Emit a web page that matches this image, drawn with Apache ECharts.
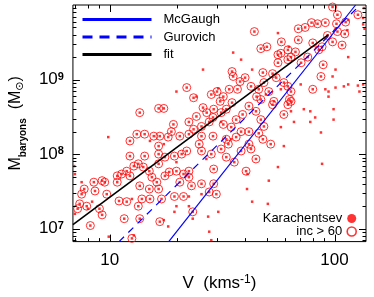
<!DOCTYPE html>
<html lang="en">
<head>
    <meta charset="UTF-8"/>
    <title>Baryonic Tully-Fisher</title>
    <script src="https://cdn.jsdelivr.net/npm/echarts@6/dist/echarts.min.js"></script>
</head>
<body style="margin:0;">
<div id="main" style="width:374px;height:297px;"></div>

<script type="text/javascript">
    // galaxies with inc > 60 (drawn as rings), [V (km/s), M_baryons (Msun)]
    var inclined = [
        [98,9.4e9],[103,7.4e9],[127,7.4e9],[112,5.9e9],[102,5.6e9],[91,5.8e9],[84,5.6e9],[79,5.8e9],[74,5.0e9],[69,4.8e9],
        [103,4.4e9],[111,4.1e9],[93,3.9e9],[98,3.2e9],[108,2.9e9],[69,3.4e9],[58,3.2e9],[50,2.75e9],[47,2.6e9],[44,4.4e9],
        [85,2.5e9],[80,3.1e9],[88,2.75e9],[67,2.35e9],[62,2.5e9],[56,2.15e9],[64,2.0e9],[56,1.68e9],[89,1.58e9],[62,1.85e9],
        [71,1.68e9],[35,1.28e9],[35.4,1.1e9],[38,9.4e8],[40,1.06e9],[48,1.24e9],[53,1.2e9],[55,1.06e9],[59.5,9.1e8],[48.5,9.1e8],
        [62,8.1e8],[64,6.9e8],[63,5.4e8],[80,7.4e8],[87,1.1e9],[42.5,8.1e8],[46,7.4e8],[45,5.9e8],[34,7.4e8],[32,5.9e8],
        [35,4.9e8],[31,5.1e8],[30,6.9e8],[22,7.8e8],[23.6,5.7e8],[41.6,4.4e8],[44.7,3.75e8],[47,2.9e8],[53,4.6e8],[39,3.4e8],
        [36.5,2.9e8],[33,4.0e8],[29,4.0e8],[28.8,3.1e8],[24.3,3.2e8],[26,4.2e8],[13.6,3.6e8],[16.5,4.1e8],[17.4,4.1e8],[19.2,2.5e8],
        [22.5,2.7e8],[32,2.5e8],[34.7,2.3e8],[48.5,2.35e8],[25.6,2.35e8],[27.7,2.7e8],[23.6,2.15e8],[59.5,3.4e8],[64,5.1e8],[53.7,5.1e8],
        [31.3,3.6e8],[13.2,1.85e8],[14.3,1.85e8],[12.3,1.5e8],[15.7,1.74e8],[16.7,1.74e8],[18.2,1.69e8],[20.5,1.74e8],[22.5,1.85e8],[18.8,2.0e8],
        [16.5,1.28e8],[12.3,9.4e7],[14.3,9.4e7],[16.5,1.0e8],[17.6,9.1e7],[19.4,9.4e7],[20.9,1.0e8],[22,1.1e8],[41.6,2.0e8],[36.5,1.69e8],
        [28.8,1.74e8],[33.7,1.36e8],[25,1.36e8],[44.7,8.6e7],[35.8,7.8e7],[25.6,1.1e8],[28.3,1.0e8],[31.3,1.17e8],[38.4,1.1e8],[42.5,1.17e8],
        [33,9.1e7],[48,1.58e8],[13.4,7.4e7],[14.1,6.7e7],[12.8,6.9e7],[11.9,5.9e7],[11.3,5.4e7],[12.3,5.1e7],[10.8,5.1e7],[10.8,4.2e7],
        [16.5,7.4e7],[15,5.9e7],[15.4,4.9e7],[17.6,5.1e7],[18.4,5.75e7],[19.8,5.9e7],[20.5,4.2e7],[22.5,5.9e7],[16.2,4.2e7],[16.5,3.4e7],
        [15,3.4e7],[8.5,4.2e7],[9.25,4.4e7],[9.5,4.2e7],[7.7,3.4e7],[8.6,3.2e7],[9.7,2.9e7],[7.5,2.9e7],[13.6,3.75e7],[19.4,2.7e7],
        [21.3,2.7e7],[17,2.5e7],[22.5,4.9e7],[23.1,3.75e7],[25.6,4.0e7],[21.3,5.4e7],[29,6.3e7],[29,4.0e7],[27.7,3.1e7],[29.8,2.9e7],
        [40.4,5.9e7],[7.35,2.15e7],[7.2,1.85e7],[7.9,2.0e7],[9.0,1.85e7],[9.25,1.53e7],[11,2.35e7],[13.9,2.5e7],[15.1,2.5e7],[13.4,2.0e7],
        [8.2,1.1e7],[11.6,1.36e7],[13.6,1.36e7],[16.7,1.24e7],[23.4,1.68e7],[12.55,7.4e6],[11.9,2.3e7],
        [57.7,2.25e9],[76,2.0e9],[62,4.6e8],[51,6.9e8],[47,5.4e8],[37,7.4e8],[28.3,6.3e8],[27,3.6e8],[38.4,2.0e8],[46,1.9e8],
        [33,1.58e8],[25.6,1.74e8],[52,1.36e8],[41.6,1.36e8]
    ];
    // the rest of the Karachentsev sample (dot only)
    var others = [
        [135,9.1e9],[134,6.7e9],[136,4.8e9],[115,6.3e9],[114,4.6e9],[115,2.0e9],[101,1.36e9],[101,7.8e8],[110,8.1e8],[115,8.6e8],
        [127,8.3e8],[129,6.9e8],[134,8.6e8],[99,2.9e8],[73,4.0e8],[78,3.75e8],[66,2.7e8],[78,2.7e8],[59.5,1.28e8],[88,7.4e7],
        [41,5.4e7],[51,4.4e7],[56,6.7e7],[43,2.3e7],[50.5,2.15e7],[40.8,3.4e7],[27.7,9.1e6],[28.3,7.0e6],[12.8,8.1e6],[9.9,7.8e6],
        [23.4,1.36e7],[27.4,1.45e7],[30.4,1.68e7],[22.5,2.7e7],[25.6,2.9e7],[56,4.2e9],[35.4,2.3e9],[26,1.36e9],[24.3,5.9e8],[62.6,2.75e9],
        [91,7.4e8],[94,6.9e8],[64,3.75e8],[82,3.1e8],[57.7,2.3e8],[9.85,1.69e8],[15.1,1.5e8],[17.4,1.36e8],[7.5,4.2e7],[8.0,1.85e7],
        [8.35,2.3e7],[12.55,2.5e7],[19.8,7.8e7],[7.0,1.58e7],[19.8,2.0e7],[22.5,2.0e7],[6.95,6.9e7],[19.8,6.9e8],[30.4,7.6e8],[99,4.0e8],
        [94,5.9e8],[43,1.36e9],[31.3,2.7e8],[17.4,1.3e7],[18.2,1.07e7],[7.0,5.4e7],[19.4,1.68e7],[87,1.95e8],[98,1.1e9],[134,5.5e9],
        [38.4,1.85e9],[49.5,6.3e8],[34.7,1.58e8],[57.7,7.4e8],[70.7,8.6e8],[26.9,8.6e7]
    ];
    // relations (end points)
    var mcgaugh = [[18.3, 6.7e6], [124, 1e10]];
    var gurovich = [[11.0, 6.7e6], [130, 1e10]];
    var fit = [[6.86, 1.13e7], [94, 4.0e9]];

    // tick marks, [value, length]
    var xTicks = [[10,7],[100,7],[7,3.5],[8,3.5],[9,3.5],[20,3.5],[30,3.5],[40,3.5],[50,3.5],[60,3.5],[70,3.5],[80,3.5],[90,3.5]];
    var yTicks = [[1e7,7],[1e8,7],[1e9,7],
        [7e6,3.5],[8e6,3.5],[9e6,3.5],
        [2e7,3.5],[3e7,3.5],[4e7,3.5],[5e7,3.5],[6e7,3.5],[7e7,3.5],[8e7,3.5],[9e7,3.5],
        [2e8,3.5],[3e8,3.5],[4e8,3.5],[5e8,3.5],[6e8,3.5],[7e8,3.5],[8e8,3.5],[9e8,3.5],
        [2e9,3.5],[3e9,3.5],[4e9,3.5],[5e9,3.5],[6e9,3.5],[7e9,3.5],[8e9,3.5],[9e9,3.5]];

    var FONT = '"Liberation Sans", Arial, Helvetica, sans-serif';
    var xMin = 6.86, xMax = 138, yMin = 6.7e6, yMax = 1e10;

    function isPow10(v) {
        var e = Math.log10(v);
        return Math.abs(e - Math.round(e)) < 1e-6;
    }

    function xTickItem(params, api) {
        var cs = params.coordSys;
        var x = Math.round(api.coord([api.value(0), 1e8])[0]) + 0.5;
        var len = api.value(1);
        var st = {stroke: '#000', lineWidth: 1};
        return {type: 'group', children: [
            {type: 'line', shape: {x1: x, y1: cs.y + cs.height, x2: x, y2: cs.y + cs.height - len}, style: st},
            {type: 'line', shape: {x1: x, y1: cs.y, x2: x, y2: cs.y + len}, style: st}
        ]};
    }
    function yTickItem(params, api) {
        var cs = params.coordSys;
        var y = Math.round(api.coord([20, api.value(0)])[1]) + 0.5;
        var len = api.value(1);
        var st = {stroke: '#000', lineWidth: 1};
        return {type: 'group', children: [
            {type: 'line', shape: {x1: cs.x, y1: y, x2: cs.x + len, y2: y}, style: st},
            {type: 'line', shape: {x1: cs.x + cs.width, y1: y, x2: cs.x + cs.width - len, y2: y}, style: st}
        ]};
    }

    var myChart = echarts.init(document.getElementById('main'));
    var option = {
        animation: false,
        backgroundColor: '#fff',
        textStyle: {fontFamily: FONT, color: '#000'},
        grid: {left: 71, right: 8, top: 5, bottom: 54, show: true, borderColor: '#000', borderWidth: 1},
        legend: [{
            orient: 'vertical', left: 81, top: 13, padding: 0,
            itemWidth: 69, itemHeight: 14, itemGap: 4.5,
            textStyle: {fontSize: 13, color: '#000', fontFamily: FONT, padding: [0, 0, 0, 7]},
            itemStyle: {opacity: 0},
            lineStyle: {width: 3},
            data: ['McGaugh', {name: 'Gurovich', lineStyle: {type: [10, 7], width: 3}}, 'fit']
        }, {
            orient: 'vertical', right: 17, top: 212, align: 'right', padding: 0,
            itemWidth: 9, itemHeight: 9, itemGap: 0,
            textStyle: {fontSize: 13, color: '#000', fontFamily: FONT},
            data: [{name: 'Karachentsev', icon: 'circle', itemStyle: {color: '#ff0000'}},
                {name: 'inc > 60', icon: 'circle', itemStyle: {color: '#fff', borderColor: '#ff0000', borderWidth: 1.6}}]
        }],
        xAxis: {
            type: 'log', min: xMin, max: xMax,
            name: 'V  (kms{sup|-1})', nameLocation: 'middle', nameGap: 30,
            nameTextStyle: {
                fontSize: 17, color: '#000', fontFamily: FONT,
                rich: {sup: {fontSize: 12, color: '#000', fontFamily: FONT, verticalAlign: 'top', padding: [0, 0, 8, 0]}}
            },
            axisLine: {show: false}, axisTick: {show: false}, splitLine: {show: false},
            axisLabel: {
                fontSize: 17, color: '#000', margin: 10, fontFamily: FONT,
                showMinLabel: false, showMaxLabel: false,
                formatter: function (v) { return isPow10(v) ? String(Math.round(v)) : ''; }
            }
        },
        yAxis: {
            type: 'log', min: yMin, max: yMax,
            name: '{m|M}{sub|baryons}{m|  (M}{sun|\u2299}{m|)}',
            nameLocation: 'middle', nameGap: 40, nameRotate: 90,
            nameTextStyle: {
                rich: {
                    m: {fontSize: 16, color: '#000', fontFamily: FONT, verticalAlign: 'bottom'},
                    sub: {fontSize: 10, color: '#000', fontWeight: 'bold', fontFamily: FONT, verticalAlign: 'bottom', padding: [0, 0, -4, 0]},
                    sun: {fontSize: 11, color: '#000', fontFamily: '"DejaVu Sans", sans-serif', verticalAlign: 'bottom', padding: [0, 0, -2, 0]}
                }
            },
            axisLine: {show: false}, axisTick: {show: false}, splitLine: {show: false},
            axisLabel: {
                margin: 9, color: '#000', fontFamily: FONT,
                showMinLabel: false, showMaxLabel: false,
                formatter: function (v) {
                    var e = Math.round(Math.log10(v));
                    if (!isPow10(v) || e > 9) return '';
                    return '{b|10}{s|' + e + '}';
                },
                rich: {
                    b: {fontSize: 17, color: '#000', fontFamily: FONT, verticalAlign: 'bottom'},
                    s: {fontSize: 11, color: '#000', fontFamily: FONT, verticalAlign: 'top', fontWeight: 'bold'}
                }
            }
        },
        series: [
            {
                name: 'inc > 60', type: 'scatter', data: inclined,
                symbol: 'circle', symbolSize: 8, z: 2,
                itemStyle: {color: 'rgba(255,255,255,0)', borderColor: '#ff0000', borderWidth: 1}
            },
            {
                name: 'Karachentsev', type: 'scatter', data: inclined.concat(others),
                symbol: 'rect', symbolSize: 2.5, z: 3,
                itemStyle: {color: '#ff0000'}
            },
            {
                name: 'McGaugh', type: 'line', data: mcgaugh, symbol: 'none', z: 4, clip: true,
                lineStyle: {color: '#0000ff', width: 1.2}, itemStyle: {color: '#0000ff'}
            },
            {
                name: 'Gurovich', type: 'line', data: gurovich, symbol: 'none', z: 4, clip: true,
                lineStyle: {color: '#0000ff', width: 1.2, type: [7, 6]}, itemStyle: {color: '#0000ff'}
            },
            {
                name: 'fit', type: 'line', data: fit, symbol: 'none', z: 5, clip: true,
                lineStyle: {color: '#000', width: 1.6}, itemStyle: {color: '#000'}
            },
            {
                type: 'custom', data: xTicks, renderItem: xTickItem, silent: true, z: 6,
                encode: {x: 0}
            },
            {
                type: 'custom', data: yTicks, renderItem: yTickItem, silent: true, z: 6,
                encode: {y: 0}
            }
        ]
    };
    myChart.setOption(option);
</script>
</body>
</html>
